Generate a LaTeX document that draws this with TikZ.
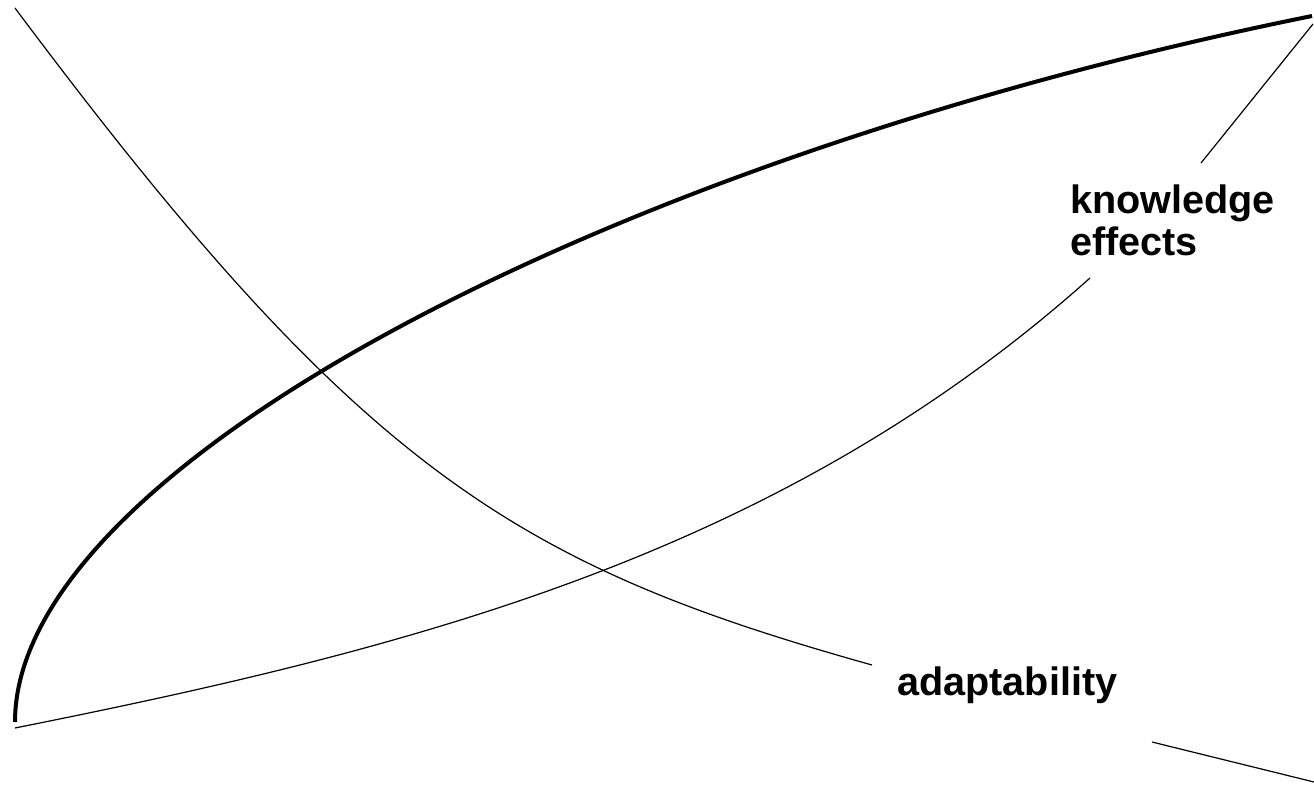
\documentclass[tikz,border=0pt]{standalone}
\usepackage{fontspec}
\setmainfont{Liberation Sans}
\begin{document}
\begin{tikzpicture}[x=1pt,y=-1pt,
  thinline/.style={line width=1.2pt,black},
  thickline/.style={line width=4pt,black},
  lbl/.style={font=\fontsize{39.6pt}{42pt}\selectfont\bfseries,inner sep=0pt,anchor=base west,align=left}]
\useasboundingbox (0,0) rectangle (1314,789);
% coordinates
\coordinate (bl) at (15,722);
\coordinate (bl2) at (15,728);
\coordinate (tr) at (1312,16);
\coordinate (tl) at (15,8);
\coordinate (ke) at (1090,278);
\coordinate (ad) at (872,665);
\coordinate (trl) at (1313,24);
\coordinate (kt) at (1201,163);
\coordinate (brA) at (1152,742);
\coordinate (brB) at (1314,782);
% labels
\node[lbl] (know) at (1070,255) {knowledge\\effects};
\node[lbl] (adapt) at (897,695) {adaptability};
% connectors
\draw[thickline] (bl) .. controls (15,470) and (600,160) .. (tr);
\draw[thinline] (bl2) .. controls (415,648) and (780,555) .. (ke);
\draw[thinline] (tl) .. controls (360,470) and (515,565) .. (ad);
\draw[thinline] (trl) -- (kt);
\draw[thinline] (brA) -- (brB);
\end{tikzpicture}
\end{document}
